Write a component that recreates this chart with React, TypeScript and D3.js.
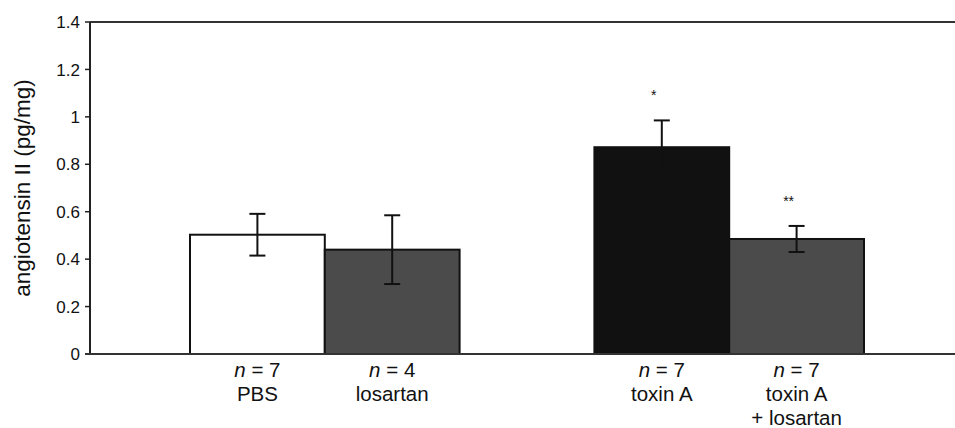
import React from "react";
import { scaleBand, scaleLinear } from "d3";

// data
const groups = ["PBS", "losartan", "gap", "toxin A", "toxin A + losartan"];
const means = [0.503, 0.44, null, 0.872, 0.485];
const errors = [0.088, 0.145, null, 0.113, 0.055];
const counts = ["7", "4", null, "7", "7"];
const labelLines = [["PBS"], ["losartan"], [], ["toxin A"], ["toxin A", "+ losartan"]];
const stars = ["", "", "", "*", "**"];
const fills = ["#ffffff", "#4b4b4b", "none", "#111111", "#4b4b4b"];
const yTicks = [0, 0.2, 0.4, 0.6, 0.8, 1, 1.2, 1.4];

const W = 955;
const H = 428;
const axisX = 90;
const font = "'Liberation Sans', Arial, sans-serif";

const App = () => {
  const x = scaleBand().domain(groups).range([190, 864]).padding(0);
  const y = scaleLinear().domain([0, 1.4]).range([354, 22]);
  const bw = x.bandwidth();

  return (
    <svg width={W} height={H} style={{ position: "absolute", left: 0, top: 0, background: "#fff" }}>
      {/* frame: top line, left axis */}
      <line x1={axisX} x2={W} y1={y(1.4)} y2={y(1.4)} stroke="#333" strokeWidth={2} />
      <line x1={axisX} x2={axisX} y1={y(1.4)} y2={y(0)} stroke="#222" strokeWidth={2} />

      {/* y ticks */}
      {yTicks.map((t) => (
        <g key={t}>
          <line x1={axisX - 5} x2={axisX} y1={y(t)} y2={y(t)} stroke="#222" strokeWidth={1.5} />
          <text x={80} y={y(t)} dy="0.36em" textAnchor="end" fontFamily={font} fontSize={17} fill="#111">
            {String(t)}
          </text>
        </g>
      ))}

      <text
        transform={`translate(30, 188) rotate(-90)`}
        textAnchor="middle"
        fontFamily={font}
        fontSize={22.5}
        fill="#111"
      >
        angiotensin II (pg/mg)
      </text>

      {/* bars */}
      {groups.map((g, i) => {
        const m = means[i];
        if (m == null) return null;
        const e = errors[i];
        const cx = x(g) + bw / 2;
        return (
          <g key={g}>
            <rect x={x(g)} y={y(m)} width={bw} height={y(0) - y(m)} fill={fills[i]} stroke="#111" strokeWidth={2} />
            <line x1={cx} x2={cx} y1={y(m + e)} y2={y(m - e)} stroke="#111" strokeWidth={2} />
            <line x1={cx - 8} x2={cx + 8} y1={y(m + e)} y2={y(m + e)} stroke="#111" strokeWidth={2} />
            <line x1={cx - 8} x2={cx + 8} y1={y(m - e)} y2={y(m - e)} stroke="#111" strokeWidth={2} />
            {stars[i] && (
              <text x={cx - 8} y={y(m + e) - 20} textAnchor="middle" fontFamily={font} fontSize={14} fill="#111">
                {stars[i]}
              </text>
            )}
          </g>
        );
      })}

      <line x1={axisX - 5} x2={W} y1={y(0)} y2={y(0)} stroke="#333" strokeWidth={2} />

      {/* category labels */}
      {groups.map((g, i) => {
        if (counts[i] == null) return null;
        const cx = x(g) + bw / 2;
        return (
          <g key={"lab" + g} fontFamily={font} fontSize={20.5} fill="#111" textAnchor="middle">
            <text x={cx} y={377}>
              <tspan fontStyle="italic">n</tspan> = {counts[i]}
            </text>
            {labelLines[i].map((l, k) => (
              <text key={k} x={cx} y={401 + k * 23.5}>
                {l}
              </text>
            ))}
          </g>
        );
      })}
    </svg>
  );
};

export default App;
